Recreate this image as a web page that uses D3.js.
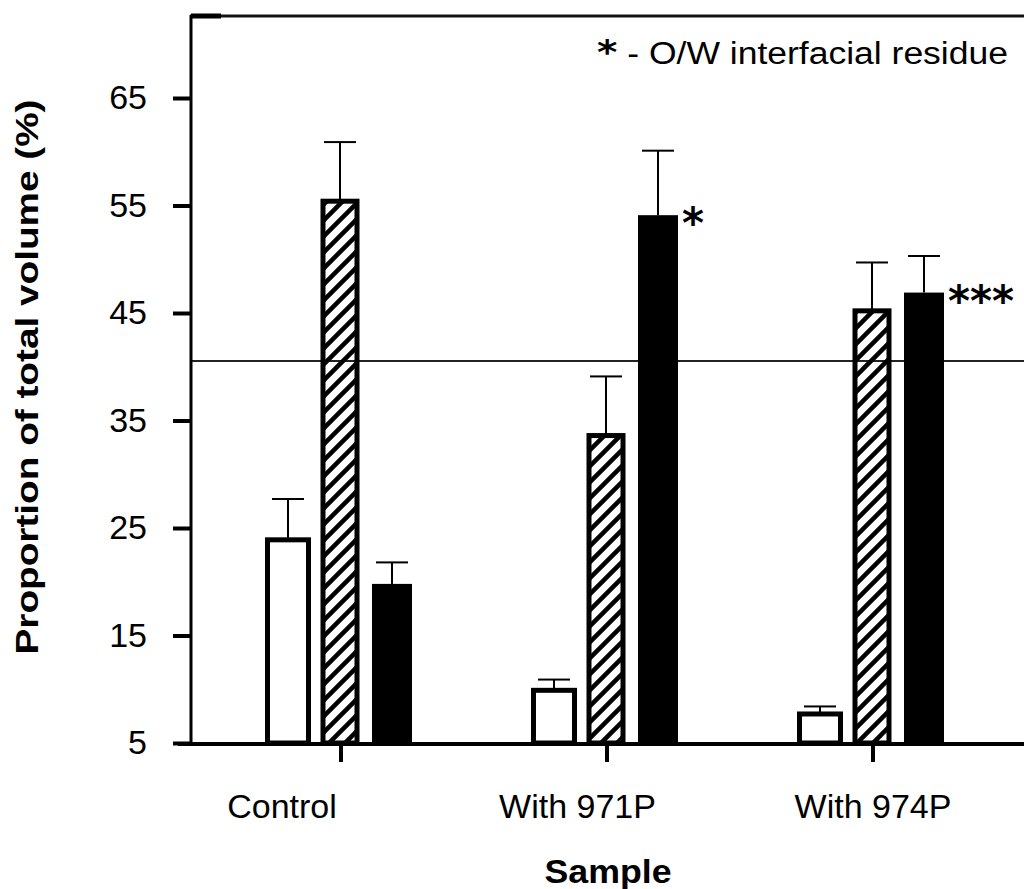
<!DOCTYPE html>
<html>
<head>
<meta charset="utf-8">
<script src="https://cdn.jsdelivr.net/npm/d3@7"></script>
<style>
  body { margin: 0; background: #fff; }
  text { font-family: "Liberation Sans", Arial, sans-serif; fill: #000; }
</style>
</head>
<body>
<script>
// values
var groups = ['Control', 'With 971P', 'With 974P'];
var series = ['open', 'hatched', 'solid'];
var openMeans = [23.9, 9.9, 7.7];
var hatchedMeans = [55.4, 33.6, 45.2];
var solidMeans = [19.8, 54.1, 46.9];
var openErr = [3.8, 1.0, 0.7];
var hatchedErr = [5.5, 5.5, 4.5];
var solidErr = [2.0, 6.0, 3.4];
var solidMarks = ['', '*', '***'];
var yTicks = [5, 15, 25, 35, 45, 55, 65];

var W = 1024, H = 889;

var svg = d3.select('body')
    .append('svg')
    .attr('width', W)
    .attr('height', H);

// hatch for the middle series
var defs = svg.append('defs');
defs.append('pattern')
    .attr('id', 'hatch')
    .attr('patternUnits', 'userSpaceOnUse')
    .attr('width', 16)
    .attr('height', 16)
    .append('path')
    .attr('d', 'M-4,4 l8,-8 M0,16 l16,-16 M12,20 l8,-8')
    .attr('stroke', '#000')
    .attr('stroke-width', 4.5);

var y = d3.scaleLinear().domain([5, 65]).range([743, 98]);
var x0 = d3.scaleBand().domain(groups).range([208, 1006]);
var x1 = d3.scaleBand().domain(series).range([54, 210]);
var xLabel = d3.scalePoint().domain(groups).range([282, 873]);

var style = {
    open: {w: 41, fill: '#fff', stroke: '#000', sw: 5},
    hatched: {w: 34, fill: 'url(#hatch)', stroke: '#000', sw: 5},
    solid: {w: 40, fill: '#000', stroke: 'none', sw: 0}
};

var rows = groups.map(function (g, i) {
    return [
        {g: g, s: 'open', v: openMeans[i], e: openErr[i], mark: ''},
        {g: g, s: 'hatched', v: hatchedMeans[i], e: hatchedErr[i], mark: ''},
        {g: g, s: 'solid', v: solidMeans[i], e: solidErr[i], mark: solidMarks[i]}
    ];
});
var flat = d3.merge(rows);

function cx(d) {
    return x0(d.g) + x1(d.s) + x1.bandwidth() / 2;
}

// frame lines
svg.append('line') // top
    .attr('x1', 190).attr('x2', W)
    .attr('y1', 16).attr('y2', 16)
    .attr('stroke', '#111').attr('stroke-width', 3);
svg.append('line')
    .attr('x1', 191).attr('x2', 221)
    .attr('y1', 16).attr('y2', 16)
    .attr('stroke', '#000').attr('stroke-width', 5);
svg.append('line') // middle rule
    .attr('x1', 191).attr('x2', W)
    .attr('y1', 361).attr('y2', 361)
    .attr('stroke', '#222').attr('stroke-width', 2);

// error bars
var err = svg.append('g').selectAll('g')
    .data(flat)
    .enter()
    .append('g');
err.append('line')
    .attr('x1', cx).attr('x2', cx)
    .attr('y1', function (d) { return y(d.v); })
    .attr('y2', function (d) { return y(d.v + d.e); })
    .attr('stroke', '#000').attr('stroke-width', 2);
err.append('line')
    .attr('x1', function (d) { return cx(d) - 16; })
    .attr('x2', function (d) { return cx(d) + 16; })
    .attr('y1', function (d) { return y(d.v + d.e); })
    .attr('y2', function (d) { return y(d.v + d.e); })
    .attr('stroke', '#000').attr('stroke-width', 2);

// bars
svg.append('g').selectAll('rect')
    .data(flat)
    .enter()
    .append('rect')
    .attr('x', function (d) { return cx(d) - style[d.s].w / 2; })
    .attr('y', function (d) { return y(d.v); })
    .attr('width', function (d) { return style[d.s].w; })
    .attr('height', function (d) { return y(5) - y(d.v); })
    .attr('fill', function (d) { return style[d.s].fill; })
    .attr('stroke', function (d) { return style[d.s].stroke; })
    .attr('stroke-width', function (d) { return style[d.s].sw; });

// significance marks
svg.append('g').selectAll('text')
    .data(flat.filter(function (d) { return d.mark; }))
    .enter()
    .append('text')
    .attr('x', function (d) { return cx(d) + style[d.s].w / 2 + 4; })
    .attr('y', function (d) { return y(d.v) + 23; })
    .style('font-family', '"DejaVu Sans", sans-serif')
    .style('font-weight', 'bold')
    .style('font-size', '42px')
    .text(function (d) { return d.mark; });

// y axis
var yAxis = svg.append('g')
    .attr('transform', 'translate(191,0)')
    .call(d3.axisLeft(y).tickValues(yTicks).tickSize(18).tickPadding(26));
yAxis.select('.domain').remove();
yAxis.selectAll('line').attr('stroke', '#000').attr('stroke-width', 4);
yAxis.selectAll('text')
    .style('font-family', '"Liberation Sans", Arial, sans-serif')
    .style('font-size', '34px');
svg.append('line')
    .attr('x1', 191).attr('x2', 191)
    .attr('y1', 15).attr('y2', 746)
    .attr('stroke', '#000').attr('stroke-width', 3);

// x axis
var xAxis = svg.append('g')
    .attr('transform', 'translate(0,744)')
    .call(d3.axisBottom(x0).tickSize(18).tickFormat(''));
xAxis.select('.domain').remove();
xAxis.selectAll('line').attr('stroke', '#000').attr('stroke-width', 4);
svg.append('line')
    .attr('x1', 178).attr('x2', W)
    .attr('y1', 744).attr('y2', 744)
    .attr('stroke', '#000').attr('stroke-width', 4);

svg.append('g').selectAll('text')
    .data(groups)
    .enter()
    .append('text')
    .attr('x', function (d) { return xLabel(d); })
    .attr('y', 818)
    .attr('text-anchor', 'middle')
    .style('font-size', '34px')
    .text(function (d) { return d; });

// axis titles
svg.append('text')
    .attr('x', 608).attr('y', 883)
    .attr('text-anchor', 'middle')
    .attr('textLength', 127)
    .attr('lengthAdjust', 'spacingAndGlyphs')
    .style('font-size', '33px')
    .style('font-weight', 'bold')
    .text('Sample');

svg.append('text')
    .attr('transform', 'translate(38,377) rotate(-90)')
    .attr('text-anchor', 'middle')
    .attr('textLength', 555)
    .attr('lengthAdjust', 'spacingAndGlyphs')
    .style('font-size', '32px')
    .style('font-weight', 'bold')
    .text('Proportion of total volume (%)');

// note in the corner
var note = svg.append('text')
    .attr('x', 597).attr('y', 64)
    .attr('textLength', 411)
    .attr('lengthAdjust', 'spacingAndGlyphs')
    .style('font-size', '31px');
note.append('tspan')
    .style('font-family', '"DejaVu Sans", sans-serif')
    .style('font-weight', 'bold')
    .style('font-size', '34px')
    .text('*');
note.append('tspan').text(' - O/W interfacial residue');
</script>
</body>
</html>
